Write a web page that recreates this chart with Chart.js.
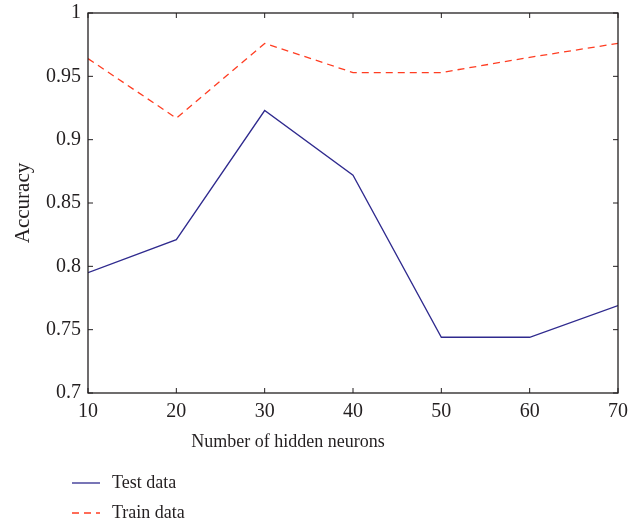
<!DOCTYPE html>
<html>
<head>
<meta charset="utf-8">
<script src="https://cdn.jsdelivr.net/npm/chart.js@4"></script>
<style>
  html, body { margin: 0; padding: 0; background: #fff; }
  #wrap { width: 643px; height: 525px; }
</style>
</head>
<body>
<div id="wrap"><canvas id="myChart" width="643" height="525"></canvas></div>
<script>
// values
const neurons = [10, 20, 30, 40, 50, 60, 70];
const testAcc = [0.795, 0.821, 0.923, 0.872, 0.744, 0.744, 0.769];
const trainAcc = [0.964, 0.917, 0.976, 0.953, 0.953, 0.965, 0.976];
const seriesNames = ['Test data', 'Train data'];

const FONT = "'Liberation Serif', 'DejaVu Serif', serif";
const INK = '#231f20';

// frame, inward ticks on all four sides, x title and legend
const decor = {
  id: 'decor',
  afterDraw(chart) {
    const c = chart.ctx, a = chart.chartArea;
    const xs = chart.scales.x, ys = chart.scales.y;
    c.save();
    c.strokeStyle = INK;
    c.lineWidth = 1.3;
    c.strokeRect(a.left, a.top, a.right - a.left, a.bottom - a.top);
    c.lineWidth = 1;
    c.beginPath();
    xs.ticks.forEach(t => {
      const px = xs.getPixelForValue(t.value);
      c.moveTo(px, a.bottom); c.lineTo(px, a.bottom - 5);
      c.moveTo(px, a.top); c.lineTo(px, a.top + 5);
    });
    ys.ticks.forEach(t => {
      const py = ys.getPixelForValue(t.value);
      c.moveTo(a.left, py); c.lineTo(a.left + 5, py);
      c.moveTo(a.right, py); c.lineTo(a.right - 5, py);
    });
    c.stroke();

    c.fillStyle = INK;
    c.font = '18px ' + FONT;
    c.textAlign = 'center';
    c.textBaseline = 'middle';
    c.fillText('Number of hidden neurons', 288, 442);

    // legend
    c.textAlign = 'left';
    chart.data.datasets.forEach((ds, i) => {
      const y = 483 + i * 30;
      c.strokeStyle = ds.borderColor;
      c.lineWidth = ds.borderWidth;
      c.setLineDash(ds.borderDash || []);
      c.beginPath();
      c.moveTo(72, y); c.lineTo(100, y);
      c.stroke();
      c.setLineDash([]);
      c.fillText(ds.label, 112, y);
    });
    c.restore();
  }
};

const ctx = document.getElementById('myChart').getContext('2d');
new Chart(ctx, {
  type: 'line',
  data: {
    datasets: [{
      label: seriesNames[0],
      data: neurons.map((n, i) => ({x: n, y: testAcc[i]})),
      borderColor: '#2f2a8e',
      borderWidth: 1.3,
      pointRadius: 0,
      tension: 0,
      fill: false
    }, {
      label: seriesNames[1],
      data: neurons.map((n, i) => ({x: n, y: trainAcc[i]})),
      borderColor: '#ff3d22',
      borderWidth: 1.3,
      borderDash: [7, 5],
      pointRadius: 0,
      tension: 0,
      fill: false
    }]
  },
  options: {
    responsive: false,
    animation: false,
    layout: { padding: { top: 12, right: 25, left: 0, bottom: 0 } },
    plugins: { legend: { display: false }, tooltip: { enabled: false } },
    scales: {
      x: {
        type: 'linear', min: 10, max: 70,
        grid: { display: false, drawTicks: false },
        border: { display: false },
        ticks: { stepSize: 10, padding: 7, color: INK, font: { family: FONT, size: 20 }, maxRotation: 0 },
        afterFit(s) { s.height = 132; }
      },
      y: {
        min: 0.7, max: 1,
        grid: { display: false, drawTicks: false },
        border: { display: false },
        ticks: {
          stepSize: 0.05, padding: 7, color: INK, font: { family: FONT, size: 20, lineHeight: 0.6 },
          callback: v => String(Math.round(v * 100) / 100)
        },
        title: { display: true, text: 'Accuracy', color: INK, font: { family: FONT, size: 21 }, padding: { top: 11, bottom: 0 } },
        afterFit(s) { s.width = 88; }
      }
    }
  },
  plugins: [decor]
});
</script>
</body>
</html>
